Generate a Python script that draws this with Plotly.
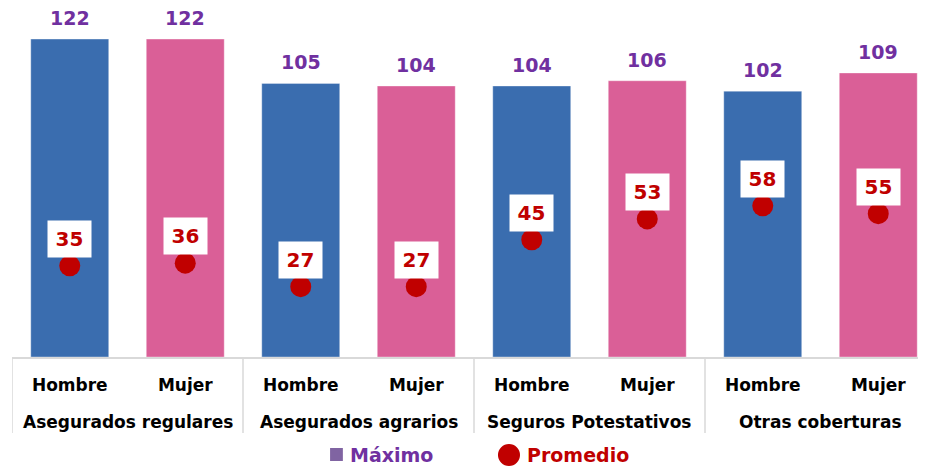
import plotly.graph_objects as go

groups = ["Asegurados regulares", "Asegurados agrarios", "Seguros Potestativos", "Otras coberturas"]
sexes = ["Hombre", "Mujer"]
maximo = [122, 122, 105, 104, 104, 106, 102, 109]
promedio = [35, 36, 27, 27, 45, 53, 58, 55]
bar_colors = ["#3A6DAF", "#DA5F97"] * 4

FONT = "DejaVu Sans"
PURPLE = "#7030A0"
RED = "#C00000"
GRID = "#D9D9D9"

xs = list(range(len(maximo)))
ticktext = [sexes[i % 2] for i in xs]

fig = go.Figure()
fig.add_trace(go.Bar(
    x=xs, y=maximo, marker=dict(color=bar_colors, line=dict(color="rgba(255,255,255,0.35)", width=1)),
    width=0.675, name="Máximo", showlegend=False, hoverinfo="y"))
fig.add_trace(go.Scatter(
    x=xs, y=promedio, mode="markers", name="Promedio", showlegend=False,
    marker=dict(color=RED, size=21, symbol="circle")))

annotations = []
for x, v in zip(xs, maximo):
    annotations.append(dict(x=x, y=v, xref="x", yref="y", text=str(v), showarrow=False,
                            yanchor="middle", yshift=21,
                            font=dict(family=FONT, size=19, color=PURPLE, weight="bold")))
for x, v in zip(xs, promedio):
    annotations.append(dict(x=x, y=v, xref="x", yref="y", text=str(v), showarrow=False,
                            yanchor="middle", yshift=27, bgcolor="white", width=41, height=34,
                            font=dict(family=FONT, size=20, color=RED, weight="bold")))
for gi, g in enumerate(groups):
    annotations.append(dict(x=gi * 2 + 0.5, y=-0.1862, xref="x", yref="paper", text=g, showarrow=False,
                            yanchor="middle", font=dict(family=FONT, size=17, color="black", weight="bold")))

# legend
annotations.append(dict(x=0.3676, y=-0.2808, xref="paper", yref="paper", text="Máximo", showarrow=False,
                        xanchor="left", yanchor="middle",
                        font=dict(family=FONT, size=19, color=PURPLE, weight="bold")))
annotations.append(dict(x=0.5613, y=-0.2808, xref="paper", yref="paper", text="Promedio", showarrow=False,
                        xanchor="left", yanchor="middle",
                        font=dict(family=FONT, size=19, color=RED, weight="bold")))

shapes = []
for d in [-0.5, 1.5, 3.5, 5.5]:
    shapes.append(dict(type="line", xref="x", yref="paper", x0=d, x1=d, y0=0, y1=-0.2178,
                       line=dict(color=GRID, width=1.5)))
shapes.append(dict(type="rect", xref="paper", yref="paper", x0=0.348, x1=0.362, y0=-0.298, y1=-0.2607,
                   fillcolor="#8064A2", line=dict(width=0)))
shapes.append(dict(type="circle", xref="paper", yref="paper", x0=0.5317, x1=0.5558, y0=-0.3123, y1=-0.2493,
                   fillcolor=RED, line=dict(width=0)))

# page body has an 8px margin; figure is sized so the plot lands where the reference has it
fig.update_layout(
    width=918, height=459,
    margin=dict(l=4, r=0, t=0, b=110),
    plot_bgcolor="white", paper_bgcolor="white",
    showlegend=False,
    annotations=annotations, shapes=shapes,
    xaxis=dict(range=[-0.5, -0.5 + 914 / 115.5], tickmode="array", tickvals=xs, ticktext=ticktext,
               showline=True, linecolor=GRID, linewidth=1.5, showgrid=False, zeroline=False,
               ticks="outside", ticklen=12, tickcolor="rgba(0,0,0,0)",
               tickfont=dict(family=FONT, size=17, color="black", weight="bold")),
    yaxis=dict(range=[0, 349 / (357 / 137)], visible=False, showgrid=False, zeroline=False),
)

fig.write_html("out.html")
